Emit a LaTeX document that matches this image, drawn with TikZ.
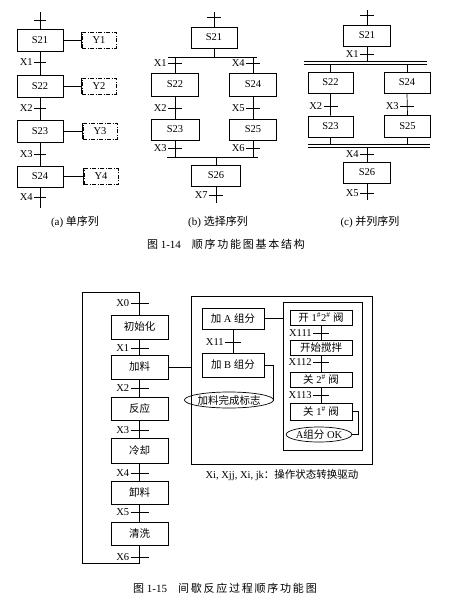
\documentclass[tikz,border=0pt]{standalone}
\usepackage{fontspec}
\setmainfont{Liberation Serif}
\newfontfamily\cjk{Noto Sans CJK SC}
\newfontfamily\cjkwide[LetterSpace=16]{Noto Sans CJK SC}
\usetikzlibrary{shapes.geometric}
\newcommand\zh[1]{{\cjk #1}}
\newcommand\trn[4]{\draw (#1-#3,#2) -- (#1+#3,#2); \node[lbl] at (#1-#3,#2) {#4};}
\begin{document}
\begin{tikzpicture}[x=1pt,y=-1pt,line width=0.7pt,
  sbox/.style={draw,rectangle,inner sep=0pt,font=\fontsize{10.5}{12}\selectfont},
  ybox/.style={draw,dash pattern=on 4pt off 1.5pt on 1pt off 1.5pt,inner sep=0pt,minimum width=34pt,minimum height=16pt,font=\fontsize{10.5}{12}\selectfont},
  lbl/.style={anchor=east,inner sep=1pt,font=\fontsize{10.5}{12}\selectfont},
  zbox/.style={draw,rectangle,inner sep=0pt,font=\fontsize{10.5}{12}\selectfont},
  flag/.style={draw,ellipse,inner sep=0pt,font=\fontsize{10.5}{12}\selectfont},
  captxt/.style={font=\fontsize{11}{13}\selectfont},
  dbl/.style={line width=1pt}]
\useasboundingbox (0,0) rectangle (450,598);
\fill[white] (0,0) rectangle (450,598);
% ---------------- (a)
\coordinate (a0) at (40,12);
\node[sbox,minimum width=46pt,minimum height=22pt] (a1) at (40,40) {S21};
\node[sbox,minimum width=46pt,minimum height=22pt] (a2) at (40,86) {S22};
\node[sbox,minimum width=46pt,minimum height=22pt] (a3) at (40,131) {S23};
\node[sbox,minimum width=46pt,minimum height=21pt] (a4) at (40,176.5) {S24};
\coordinate (ae) at (40,208);
\node[ybox] (y1) at (99,40) {Y1};
\node[ybox] (y2) at (99,86) {Y2};
\node[ybox] (y3) at (100,131) {Y3};
\node[ybox] (y4) at (101,176.5) {Y4};
\draw (a0) -- (a1.north) (a1.south) -- (a2.north) (a2.south) -- (a3.north) (a3.south) -- (a4.north) (a4.south) -- (ae);
\foreach \s/\y in {a1/y1,a2/y2,a3/y3,a4/y4}{
  \draw (\s.east) -- (\y.west);
  \draw (\y.north west) -- (\y.south west);}
\trn{40}{20}{6}{}
\trn{40}{62}{6}{X1}
\trn{40}{108}{6}{X2}
\trn{40}{154}{6}{X3}
\trn{40}{197}{6}{X4}
\node[captxt] (capa) at (75,222) {(a) \zh{单序列}};
% ---------------- (b)
\coordinate (b0) at (214,12);
\node[sbox,minimum width=46pt,minimum height=21pt] (b1) at (214,37.5) {S21};
\coordinate (bs) at (214,57);
\coordinate (bl) at (168,57);
\coordinate (br) at (257,57);
\node[sbox,minimum width=47pt,minimum height=23pt] (b2) at (175,84.5) {S22};
\node[sbox,minimum width=47pt,minimum height=23pt] (b4) at (253,84.5) {S24};
\node[sbox,minimum width=48pt,minimum height=21pt] (b3) at (175,129.5) {S23};
\node[sbox,minimum width=47pt,minimum height=21pt] (b5) at (253,129.5) {S25};
\coordinate (ml) at (167,157);
\coordinate (mr) at (258,157);
\node[sbox,minimum width=49pt,minimum height=21pt] (b6) at (216,175.5) {S26};
\coordinate (be) at (216,203);
\draw (b0) -- (b1.north) (b1.south) -- (bs) (bl) -- (br);
\draw (b2.north |- bl) -- (b2.north) (b4.north |- bl) -- (b4.north);
\draw (b2.south) -- (b3.north) (b4.south) -- (b5.north);
\draw (b3.south) -- (b3.south |- ml) (b5.south) -- (b5.south |- ml) (ml) -- (mr);
\draw (b6.north |- ml) -- (b6.north) (b6.south) -- (be);
\trn{214}{17}{7}{}
\trn{175}{63}{7}{X1}
\trn{253}{63}{7}{X4}
\trn{175}{108}{7}{X2}
\trn{253}{108}{7}{X5}
\trn{175}{148}{7}{X3}
\trn{253}{148}{7}{X6}
\trn{216}{195}{7}{X7}
\node[captxt] (capb) at (218,222) {(b) \zh{选择序列}};
% ---------------- (c)
\coordinate (c0) at (367,10);
\node[sbox,minimum width=47pt,minimum height=21pt] (c1) at (367,35.5) {S21};
\coordinate (t1l) at (304,61); \coordinate (t1r) at (427,61);
\coordinate (t2l) at (304,64); \coordinate (t2r) at (427,64);
\node[sbox,minimum width=45pt,minimum height=21pt] (c2) at (330.5,82.5) {S22};
\node[sbox,minimum width=46pt,minimum height=21pt] (c4) at (407,82.5) {S24};
\node[sbox,minimum width=45pt,minimum height=21pt] (c3) at (330.5,126.5) {S23};
\node[sbox,minimum width=46pt,minimum height=22pt] (c5) at (407.5,126.5) {S25};
\coordinate (u1l) at (308,144); \coordinate (u1r) at (430,144);
\coordinate (u2l) at (308,147); \coordinate (u2r) at (430,147);
\node[sbox,minimum width=47pt,minimum height=21pt] (c6) at (367,172.5) {S26};
\coordinate (ce) at (367,200);
\draw (c0) -- (c1.north) (c1.south) -- (c1.south |- t1l);
\draw[dbl] (t1l) -- (t1r) (t2l) -- (t2r) (u1l) -- (u1r) (u2l) -- (u2r);
\draw (c2.north |- t2l) -- (c2.north) (c4.north |- t2l) -- (c4.north);
\draw (c2.south) -- (c3.north) (c4.south) -- (c5.north);
\draw (c3.south) -- (c3.south |- u1l) (c5.south) -- (c5.south |- u1l);
\draw (c6.north |- u2l) -- (c6.north) (c6.south) -- (ce);
\trn{367}{15}{7}{}
\trn{367}{54}{7}{X1}
\trn{330.5}{106}{7}{X2}
\trn{407}{106}{7}{X3}
\trn{367}{154}{7}{X4}
\trn{367}{193}{7}{X5}
\node[captxt] (capc) at (370,222) {(c) \zh{并列序列}};
\node[captxt] (fig14) at (226,244) {{\cjkwide 图} 1-14\quad{\cjkwide 顺序功能图基本结构}};
% ---------------- Fig 1-15
\node[zbox,minimum width=57pt,minimum height=24pt] (m1) at (139.5,327) {\zh{初始化}};
\node[zbox,minimum width=57pt,minimum height=24pt] (m2) at (139.5,367) {\zh{加料}};
\node[zbox,minimum width=57pt,minimum height=23pt] (m3) at (139.5,408.5) {\zh{反应}};
\node[zbox,minimum width=57pt,minimum height=25pt] (m4) at (139.5,450.5) {\zh{冷却}};
\node[zbox,minimum width=57pt,minimum height=23pt] (m5) at (139.5,492.5) {\zh{卸料}};
\node[zbox,minimum width=57pt,minimum height=23pt] (m6) at (139.5,533.5) {\zh{清洗}};
\coordinate (lt) at (139.5,292);
\coordinate (ltl) at (82,292);
\coordinate (lbl2) at (82,563);
\coordinate (lb) at (139.5,563);
\draw (m6.south) -- (lb) -- (lbl2) -- (ltl) -- (lt) -- (m1.north);
\draw (m1.south) -- (m2.north) (m2.south) -- (m3.north) (m3.south) -- (m4.north) (m4.south) -- (m5.north) (m5.south) -- (m6.north);
\trn{139.5}{303}{9}{X0}
\trn{139.5}{348}{9}{X1}
\trn{139.5}{388}{9}{X2}
\trn{139.5}{430}{9}{X3}
\trn{139.5}{473}{9}{X4}
\trn{139.5}{512}{9}{X5}
\trn{139.5}{557}{9}{X6}
\node[draw,rectangle,minimum width=181pt,minimum height=168pt,inner sep=0pt] (grp) at (281.5,380) {};
\draw (m2.east) -- (m2.east -| grp.west);
\node[zbox,minimum width=62pt,minimum height=21pt] (pA) at (233,318.5) {\zh{加} A \zh{组分}};
\node[zbox,minimum width=62pt,minimum height=24pt] (pB) at (233,365) {\zh{加} B \zh{组分}};
\node[flag,minimum width=72pt,minimum height=16pt] (fl) at (229,400) {\zh{加料完成标志}};
\draw (pA.south) -- (pB.north);
\trn{233}{342}{8}{X11}
\node[draw,rectangle,minimum width=79pt,minimum height=148pt,inner sep=0pt] (inr) at (322.5,376) {};
\draw (pA.east) -- (pA.east -| inr.west);
\draw (pB.east) -- ++(9,0) |- (fl.east);
\node[zbox,minimum width=62pt,minimum height=15pt] (q1) at (321,317.5) {\zh{开} 1\textsuperscript{\#}2\textsuperscript{\#} \zh{阀}};
\node[zbox,minimum width=62pt,minimum height=15pt] (q2) at (321,347.5) {\zh{开始搅拌}};
\node[zbox,minimum width=62pt,minimum height=15pt] (q3) at (321,379.5) {\zh{关} 2\textsuperscript{\#} \zh{阀}};
\node[zbox,minimum width=62pt,minimum height=17pt] (q4) at (321,411.5) {\zh{关} 1\textsuperscript{\#} \zh{阀}};
\node[flag,minimum width=58pt,minimum height=15pt] (ok) at (319,434.5) {A\zh{组分} OK};
\draw (q1.south) -- (q2.north) (q2.south) -- (q3.north) (q3.south) -- (q4.north);
\draw (q4.east) -- ++(6,0) |- (ok.east);
\trn{321}{333}{8}{X111}
\trn{321}{362}{8}{X112}
\trn{321}{395}{8}{X113}
\node[font=\fontsize{10.5}{12}\selectfont] (note) at (282,475) {Xi, Xjj, Xi, jk\zh{：操作状态转换驱动}};
\node[captxt] (fig15) at (225,588) {{\cjkwide 图} 1-15\quad{\cjkwide 间歇反应过程顺序功能图}};
\end{tikzpicture}
\end{document}
